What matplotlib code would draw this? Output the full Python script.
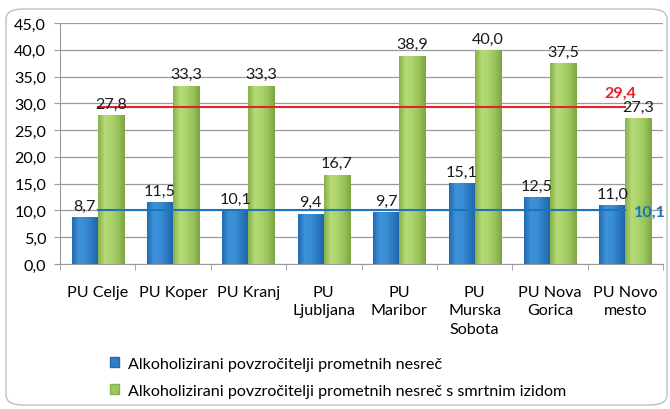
import matplotlib
matplotlib.use("Agg")
import matplotlib.pyplot as plt
import numpy as np
from matplotlib.patches import FancyBboxPatch, Patch
from matplotlib.colors import LinearSegmentedColormap

plt.rcParams['font.family'] = ['Lato', 'DejaVu Sans']

categories = ["PU Celje", "PU Koper", "PU Kranj", "PU\nLjubljana", "PU\nMaribor",
              "PU\nMurska\nSobota", "PU Nova\nGorica", "PU Novo\nmesto"]
series1 = [8.7, 11.5, 10.1, 9.4, 9.7, 15.1, 12.5, 11.0]
series2 = [27.8, 33.3, 33.3, 16.7, 38.9, 40.0, 37.5, 27.3]
avg1 = 10.1
avg2 = 29.4
label1 = "Alkoholizirani povzročitelji prometnih nesreč"
label2 = "Alkoholizirani povzročitelji prometnih nesreč s smrtnim izidom"
yticks = np.arange(0, 46, 5)

def fmt(v):
    return f"{v:.1f}".replace(".", ",")

FS = 11.6

fig = plt.figure(figsize=(6.7, 4.1), dpi=100)
border = FancyBboxPatch((6/670, 4/410), 661/670, 396/410,
                        boxstyle="round,pad=0,rounding_size=0.025",
                        transform=fig.transFigure, fill=False,
                        edgecolor="#BFBFBF", linewidth=1.0)
fig.patches.append(border)

ax = fig.add_axes([60/670, 1-265/410, 603/670, 241/410])
x = np.arange(len(categories))
w = 0.345

blue_cmap = LinearSegmentedColormap.from_list("b", ["#2369B0", "#3C93DB", "#3A8DD4", "#2B78C0", "#1F62A6"])
green_cmap = LinearSegmentedColormap.from_list("g", ["#86B04B", "#B6DA78", "#ADD36B", "#98C35B", "#7DA443"])

b1 = ax.bar(x - w/2, series1, w, color="#2E7DC6", zorder=3, linewidth=0)
b2 = ax.bar(x + w/2, series2, w, color="#9CC763", zorder=3, linewidth=0)

grad = np.linspace(0, 1, 64).reshape(1, -1)
for bars, cmap in ((b1, blue_cmap), (b2, green_cmap)):
    for p in bars:
        x0, y0 = p.get_x(), p.get_y()
        im = ax.imshow(grad, cmap=cmap, aspect='auto',
                       extent=(x0, x0 + p.get_width(), y0, y0 + p.get_height()),
                       zorder=3.5, interpolation='bilinear')
        im.set_clip_path(p)

for xi, v in zip(x, series1):
    ax.text(xi - w/2, v + 0.8, fmt(v), ha='center', va='bottom', fontsize=FS, color='#1a1a1a', zorder=5)
for xi, v in zip(x, series2):
    ax.text(xi + w/2, v + 0.8, fmt(v), ha='center', va='bottom', fontsize=FS, color='#1a1a1a', zorder=5)

ax.plot([x[0], x[-1]], [avg2, avg2], color="#E8202A", linewidth=1.5, zorder=4)
ax.plot([x[0], x[-1]], [avg1, avg1], color="#1B75BC", linewidth=1.5, zorder=4)
ax.text(x[-1] - 0.07, avg2 + 1.2, fmt(avg2), color="#E8202A", fontsize=FS, fontweight='bold',
        ha='center', va='bottom', zorder=5)
ax.text(x[-1] + 0.11, avg1 - 0.3, fmt(avg1), color="#1B75BC", fontsize=FS, fontweight='bold',
        ha='left', va='center', zorder=5, clip_on=False)

ax.set_xlim(-0.5, len(categories) - 0.5)
ax.set_ylim(0, 45)
ax.set_yticks(yticks)
ax.set_yticklabels([fmt(v) for v in yticks], fontsize=FS)
ax.yaxis.grid(True, color="#9A9A9A", linewidth=0.9, zorder=0)
ax.set_axisbelow(True)

ax.set_xticks(x)
ax.set_xticklabels(categories, fontsize=FS, linespacing=1.42, va='top')
ax.set_xticks(np.arange(-0.5, len(categories), 1), minor=True)
ax.tick_params(axis='x', which='major', length=0, pad=15)
ax.tick_params(axis='x', which='minor', length=4, color="#9A9A9A")
ax.tick_params(axis='y', length=4, color="#9A9A9A", pad=6)

for s in ['top', 'right']:
    ax.spines[s].set_visible(False)
for s in ['left', 'bottom']:
    ax.spines[s].set_color("#9A9A9A")

handles = [Patch(facecolor="#2E7DC6", edgecolor="#2369B0"),
           Patch(facecolor="#9CC763", edgecolor="#86B04B")]
fig.legend(handles, [label1, label2], loc='upper left',
           bbox_to_anchor=(110/670, 1-358/410), frameon=False, fontsize=FS,
           handlelength=0.55, handleheight=0.55, handletextpad=0.55, labelspacing=0.8,
           borderaxespad=0, borderpad=0)

fig.savefig("out.png", dpi=100)
